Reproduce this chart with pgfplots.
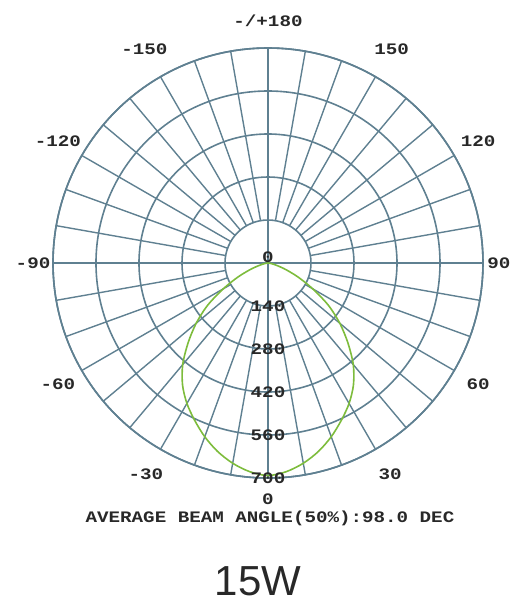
\documentclass[border=0pt]{standalone}
\usepackage{fontspec}
\setmainfont{Liberation Sans}
\newfontfamily\labfont{Liberation Mono}
\usepackage{pgfplots}
\pgfplotsset{compat=1.18}
\usepgfplotslibrary{polar}
\definecolor{gridcol}{RGB}{95,128,145}
\definecolor{curvecol}{RGB}{125,188,60}
\definecolor{labcol}{RGB}{40,40,40}

% polar angle phi = beam angle - 90 (0 deg points down)
\pgfplotstableread{
phi  cd
-180 0
-175 3
-170 11
-165 28
-160 60
-155 108
-150 168
-145 240
-140 305
-135 368
-130 432
-125 485
-120 528
-115 565
-110 602
-105 635
-100 662
-95  682
-90  692
-85  682
-80  662
-75  635
-70  602
-65  565
-60  528
-55  485
-50  432
-45  368
-40  305
-35  240
-30  168
-25  108
-20  60
-15  28
-10  11
-5   3
0    0
}\beamdata

\begin{document}
\begin{tikzpicture}[
  lab/.style={font=\labfont\bfseries\fontsize{16}{16}\selectfont, text=labcol, xscale=1.2, inner sep=0pt},
]
\useasboundingbox (-268pt,-342pt) rectangle (245pt,263pt);
\begin{polaraxis}[
  at={(0pt,0pt)}, anchor=origin,
  scale only axis, width=430pt, height=430pt,
  xmin=0, xmax=360, ymin=0, ymax=700,
  xtick=\empty, ytick={140,280,420,560,700},
  yticklabels={}, major tick length=0pt,
  ymajorgrids, y grid style={gridcol, line width=1.6pt},
  axis line style={gridcol, line width=1.6pt},
  clip=false,
]
\pgfplotsinvokeforeach{0,10,...,350}{
  \draw[gridcol, line width=1.4pt] (axis cs:#1,140) -- (axis cs:#1,700);
}
\draw[gridcol, line width=1.6pt] (axis cs:0,700) -- (axis cs:180,700);
\draw[gridcol, line width=1.6pt] (axis cs:90,700) -- (axis cs:270,700);

\addplot[curvecol, line width=1.6pt, smooth] table[x=phi, y=cd] {\beamdata};

% angle labels
\node[lab] at (axis cs:-90,770) {0};
\node[lab] at (axis cs:-60,795) {30};
\node[lab] at (axis cs:240,795) {-30};
\node[lab] at (axis cs:-30,790) {60};
\node[lab] at (axis cs:210,790) {-60};
\node[lab] at (axis cs:0,752) {90};
\node[lab] at (axis cs:180,765) {-90};
\node[lab] at (axis cs:30,790) {120};
\node[lab] at (axis cs:150,790) {-120};
\node[lab] at (axis cs:60,805) {150};
\node[lab] at (axis cs:120,805) {-150};
\node[lab] at (axis cs:90,790) {-/+180};
% intensity labels
\node[lab, yshift=6pt] at (axis cs:0,0) {0};
\node[lab] at (axis cs:-90,140) {140};
\node[lab] at (axis cs:-90,280) {280};
\node[lab] at (axis cs:-90,420) {420};
\node[lab] at (axis cs:-90,560) {560};
\node[lab] at (axis cs:-90,700) {700};
\end{polaraxis}
\node[lab] at (2pt,-255pt) {AVERAGE BEAM ANGLE(50\%):98.0 DEC};
\node[font=\fontsize{42}{42}\selectfont, text=labcol, inner sep=0pt] at (-10pt,-318pt) {15W};
\end{tikzpicture}
\end{document}
